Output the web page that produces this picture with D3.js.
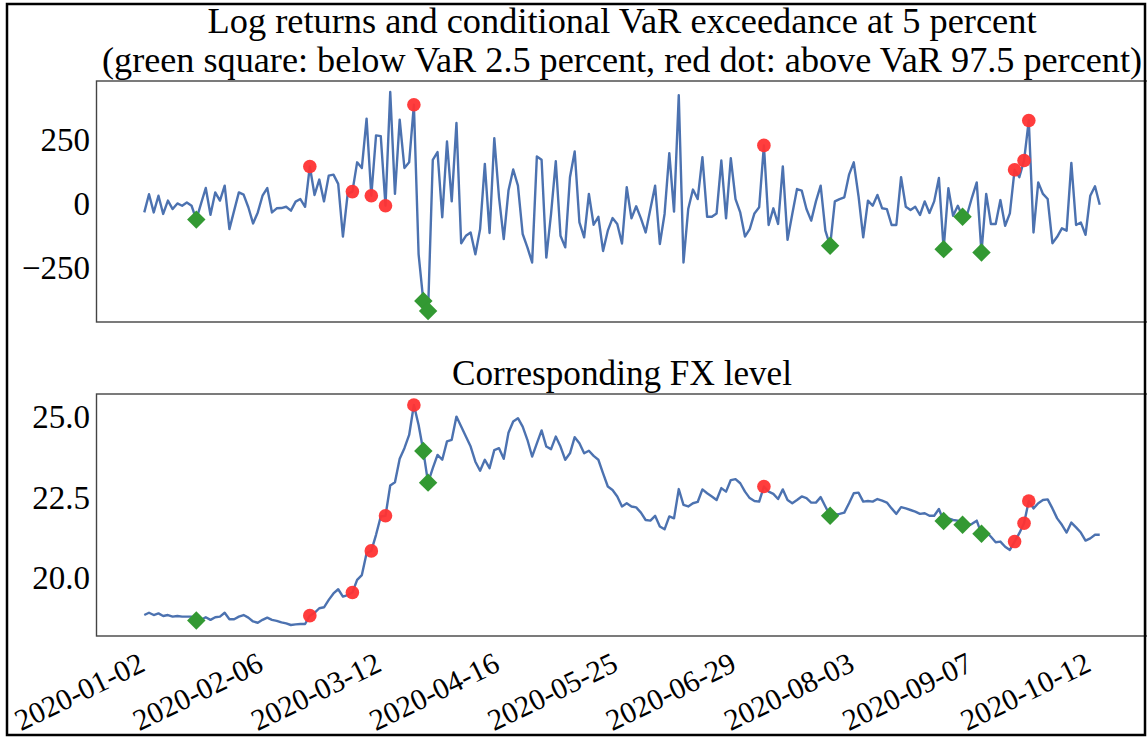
<!DOCTYPE html>
<html>
<head>
<meta charset="utf-8">
<script src="https://cdn.jsdelivr.net/npm/d3@7"></script>
<style>
  body { margin: 0; background: #fff; }
  svg { display: block; }
  text { font-family: "Liberation Serif", "DejaVu Serif", serif; fill: #000; }
</style>
</head>
<body>
<svg id="chart"></svg>
<script>
// daily log returns (bps)
const logReturns = [
  -34, 37, -34, 31, -40, 12, -21, 1, -8, 5,
  -8, -62, 0, 61, -43, 44, 12, 70, -99, -27,
  44, 35, -14, -77, -34, 31, 61, -34, -18, -17,
  -12, -27, 8, 18, -12, 145, 34, 94, 9, 109,
  113, 77, -128, 38, 47, 161, 139, 331, 31, 266,
  263, -8, 435, 38, 327, 139, 161, 385, -197, -379,
  -418, 171, 201, -53, 242, 9, 314, -154, -125, -112,
  -197, -99, 155, -114, 255, 25, -138, 51, 133, 70,
  -118, -170, -229, 184, 171, -210, -40, 165, -125, -170,
  103, 203, -73, -131, 38, -82, -51, -184, -105, -56,
  -79, -155, 64, -57, -10, -57, -112, -21, 70, -157,
  -40, 197, -31, 422, -229, -21, 55, 18, 181, -51,
  -51, -38, 168, -57, 177, 18, -34, -128, -99, -38,
  -14, 227, -83, -18, -79, 145, -141, -40, 57, 51,
  -21, -66, 9, 70, -105, -164, 9, 18, 25, 113,
  161, 30, -131, 12, -8, 34, -18, -21, -83, -83,
  103, -12, -25, -12, -44, 9, -36, 9, 100, -177,
  60, -47, -8, -51, -40, 25, 83, -190, 38, -79,
  -79, 14, -86, -38, 132, 103, 168, 324, -112, 83,
  38, 18, -154, -129, -96, -105, 159, -83, -73, -121,
  31, 68, -4
];

// FX level
const fxLevel = [
  18.85, 18.92, 18.85, 18.90, 18.82, 18.85, 18.80, 18.82, 18.80, 18.80,
  18.80, 18.68, 18.70, 18.78, 18.70, 18.78, 18.80, 18.92, 18.72, 18.72,
  18.80, 18.85, 18.77, 18.65, 18.61, 18.70, 18.77, 18.70, 18.67, 18.62,
  18.59, 18.54, 18.56, 18.57, 18.57, 18.83, 18.92, 19.06, 19.09, 19.32,
  19.52, 19.65, 19.42, 19.47, 19.55, 19.94, 20.09, 20.77, 20.84, 21.34,
  21.91, 21.93, 22.87, 22.97, 23.70, 24.03, 24.44, 25.37, 24.75, 23.94,
  22.96, 23.41, 23.82, 23.67, 24.24, 24.29, 25.01, 24.70, 24.39, 24.08,
  23.61, 23.33, 23.67, 23.41, 23.97, 24.03, 23.70, 24.51, 24.86, 24.96,
  24.70, 24.29, 23.77, 24.18, 24.58, 24.08, 24.00, 24.39, 24.08, 23.67,
  23.87, 24.37, 24.18, 23.87, 23.95, 23.79, 23.67, 23.25, 22.84, 22.73,
  22.53, 22.22, 22.32, 22.22, 22.19, 22.03, 21.80, 21.78, 21.93, 21.60,
  21.51, 21.91, 21.85, 22.76, 22.27, 22.22, 22.32, 22.36, 22.75, 22.63,
  22.53, 22.42, 22.79, 22.68, 23.04, 23.07, 22.94, 22.68, 22.48, 22.39,
  22.37, 22.84, 22.68, 22.61, 22.45, 22.75, 22.42, 22.32, 22.42, 22.53,
  22.48, 22.34, 22.34, 22.51, 22.22, 21.93, 21.96, 21.99, 22.03, 22.32,
  22.63, 22.65, 22.37, 22.39, 22.37, 22.45, 22.40, 22.34, 22.16, 21.99,
  22.20, 22.16, 22.11, 22.06, 21.99, 22.01, 21.93, 21.93, 22.14, 21.77,
  21.85, 21.80, 21.78, 21.65, 21.62, 21.68, 21.78, 21.37, 21.44, 21.28,
  21.11, 21.13, 20.97, 20.87, 21.13, 21.39, 21.70, 22.39, 22.16, 22.32,
  22.42, 22.44, 22.16, 21.85, 21.65, 21.41, 21.72, 21.57, 21.41, 21.16,
  21.23, 21.34, 21.34
];

// exceedance days (index into the series)
const belowVaR = [11, 59, 60, 145, 169, 173, 177];
const aboveVaR = [35, 44, 48, 51, 57, 131, 184, 186, 187];

// every 25th trading day is labelled
const tickStep = 25;
const tickLabels = ["2020-01-02", "2020-02-06", "2020-03-12", "2020-04-16", "2020-05-25",
                    "2020-06-29", "2020-08-03", "2020-09-07", "2020-10-12"];

const retTicks = [-250, 0, 250];
const fxTicks = [20.0, 22.5, 25.0];

const W = 1147, H = 738;
const svg = d3.select("#chart").attr("width", W).attr("height", H);

const n = logReturns.length;
const left = 96.5, right = 1147.5;

// matplotlib style 5% margins
function padded(ext) {
  var r = ext[1] - ext[0];
  return [ext[0] - 0.05 * r, ext[1] + 0.05 * r];
}

var x = d3.scaleLinear().domain(padded([0, n - 1])).range([left, right]);

var panels = [
  { data: logReturns, top: 81, bottom: 322, ticks: retTicks,
    fmt: d => d < 0 ? "\u2212" + Math.abs(d) : String(d) },
  { data: fxLevel, top: 394, bottom: 636, ticks: fxTicks,
    fmt: d3.format(".1f") }
];

var blue = "#4c72b0";

panels.forEach(function(p) {
  var y = d3.scaleLinear().domain(padded(d3.extent(p.data))).range([p.bottom, p.top]);
  var g = svg.append("g");

  var line = d3.line()
    .x(function(d, i) { return x(i); })
    .y(function(d) { return y(d); });

  g.append("path")
    .datum(p.data)
    .attr("fill", "none")
    .attr("stroke", blue)
    .attr("stroke-width", 2.4)
    .attr("stroke-linejoin", "round")
    .attr("d", line);

  g.selectAll("path.below")
    .data(belowVaR)
    .enter().append("path")
    .attr("class", "below")
    .attr("d", d3.symbol().type(d3.symbolSquare).size(170))
    .attr("transform", function(i) { return "translate(" + x(i) + "," + y(p.data[i]) + ") rotate(45)"; })
    .attr("fill", "rgb(51,153,51)");

  g.selectAll("circle.above")
    .data(aboveVaR)
    .enter().append("circle")
    .attr("class", "above")
    .attr("cx", function(i) { return x(i); })
    .attr("cy", function(i) { return y(p.data[i]); })
    .attr("r", 6.8)
    .attr("fill", "rgb(255,51,51)")
    .attr("fill-opacity", 0.95);

  // y tick labels, no tick marks
  g.selectAll("text.ytick")
    .data(p.ticks)
    .enter().append("text")
    .attr("class", "ytick")
    .attr("x", 90)
    .attr("y", function(d) { return y(d); })
    .attr("dy", "0.34em")
    .attr("text-anchor", "end")
    .style("font-size", "33px")
    .text(p.fmt);

  // frame
  g.append("rect")
    .attr("x", left).attr("y", p.top)
    .attr("width", right - left).attr("height", p.bottom - p.top)
    .attr("fill", "none")
    .attr("stroke", "#444")
    .attr("stroke-width", 1.4);
});

// titles
function title(txt, cy, len, size) {
  svg.append("text")
    .attr("x", (left + right) / 2)
    .attr("y", cy)
    .attr("text-anchor", "middle")
    .attr("textLength", len)
    .attr("lengthAdjust", "spacingAndGlyphs")
    .style("font-size", size + "px")
    .text(txt);
}
title("Log returns and conditional VaR exceedance at 5 percent", 33, 829, 36);
title("(green square: below VaR 2.5 percent, red dot: above VaR 97.5 percent)", 72, 1040, 36);
title("Corresponding FX level", 385, 340, 36);

// rotated date labels under the lower panel
svg.selectAll("text.xtick")
  .data(tickLabels)
  .enter().append("text")
  .attr("class", "xtick")
  .attr("transform", function(d, i) {
    return "translate(" + (x(i * tickStep) + 2.5) + ",670) rotate(-26)";
  })
  .attr("text-anchor", "end")
  .style("font-size", "30px")
  .text(function(d) { return d; });

// outer border
svg.append("rect")
  .attr("x", 7).attr("y", 4)
  .attr("width", 1138).attr("height", 731)
  .attr("fill", "none")
  .attr("stroke", "#000")
  .attr("stroke-width", 2.5);
</script>
</body>
</html>
